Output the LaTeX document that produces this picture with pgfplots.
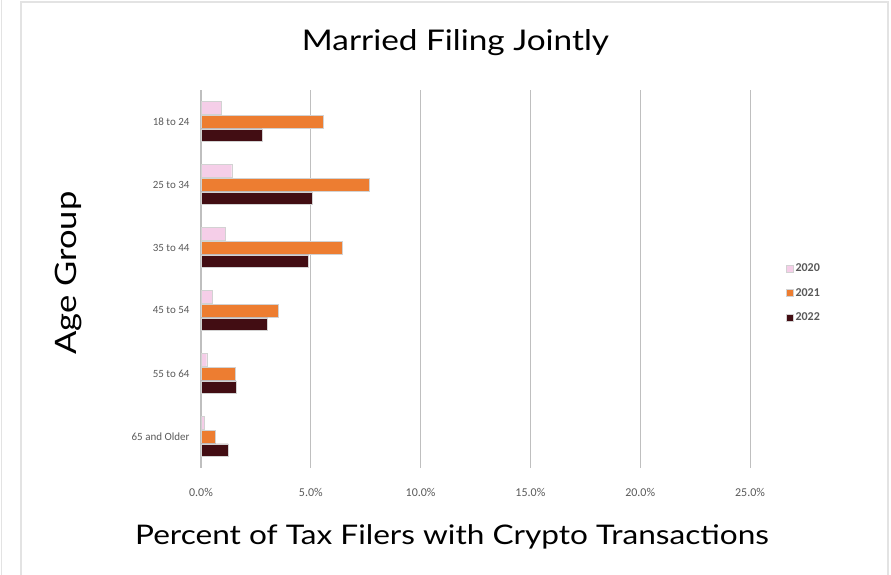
\documentclass[border=0pt]{standalone}
\usepackage{fontspec}
\setmainfont{Carlito}
\newfontfamily\titlefont{Lato}[FakeStretch=1.17]
\usepackage{pgfplots}
\pgfplotsset{compat=1.18}
\definecolor{c2020}{HTML}{F5CEE8}
\definecolor{c2021}{HTML}{ED7D31}
\definecolor{c2022}{HTML}{420D13}
\definecolor{gridc}{HTML}{BFBFBF}
\definecolor{tickc}{HTML}{595959}
\definecolor{framec}{HTML}{E3E3E3}
\begin{document}
\begin{tikzpicture}[x=1pt,y=1pt]
\useasboundingbox (0,0) rectangle (891,575);
\draw[framec,line width=1.5pt] (21,0) -- (21,573) -- (888,573) -- (888,0);
\draw[framec,line width=1pt] (1,0) -- (1,575);
\node[font=\titlefont\fontsize{28.5}{31}\selectfont] at (455.5,532) {Married Filing Jointly};
\node[font=\titlefont\fontsize{27}{30}\selectfont] at (452,38) {Percent of Tax Filers with Crypto Transactions};
\node[font=\titlefont\fontsize{29.5}{32}\selectfont,rotate=90] at (69,302) {Age Group};
\begin{axis}[
  at={(201pt,107pt)}, anchor=south west,
  scale only axis, width=549pt, height=378pt,
  xbar, bar width=12.5pt,
  xmin=0, xmax=25, ymin=-0.5, ymax=5.5, y dir=reverse,
  ytick={0,1,2,3,4,5},
  yticklabels={18 to 24,25 to 34,35 to 44,45 to 54,55 to 64,65 and Older},
  xtick={0,5,10,15,20,25},
  xticklabel={\pgfmathprintnumber[fixed,fixed zerofill,precision=1]{\tick}\%},
  /pgf/number format/assume math mode=true,
  xmajorgrids, grid style={gridc,line width=1pt},
  axis line style={draw=none},
  major tick length=0pt,
  ticklabel style={font=\fontsize{12}{14}\selectfont,text=tickc},
  xticklabel style={yshift=-17pt},
  yticklabel style={xshift=-8pt,font=\fontsize{11}{13}\selectfont},
  legend style={draw=none,at={(1.06,0.463)},anchor=west,font=\bfseries\fontsize{12}{14}\selectfont,text=tickc,row sep=11pt},
  legend cell align=left,
  legend image code/.code={\fill[#1] (0pt,-3.5pt) rectangle (7pt,3.5pt);},
  clip=false,
]
\draw[gridc,line width=1.2pt] (axis cs:0,-0.5) -- (axis cs:0,5.5);
\addplot[fill=c2020,draw=gray!35,bar shift=13.7pt] coordinates {(0.94,0) (1.40,1) (1.10,2) (0.53,3) (0.26,4) (0.14,5)};
\addplot[fill=c2021,draw=gray!35,bar shift=0pt] coordinates {(5.55,0) (7.67,1) (6.42,2) (3.50,3) (1.58,4) (0.65,5)};
\addplot[fill=c2022,draw=gray!35,bar shift=-13.7pt] coordinates {(2.77,0) (5.05,1) (4.90,2) (3.03,3) (1.60,4) (1.23,5)};
\legend{2020,2021,2022}
\end{axis}
\end{tikzpicture}
\end{document}
